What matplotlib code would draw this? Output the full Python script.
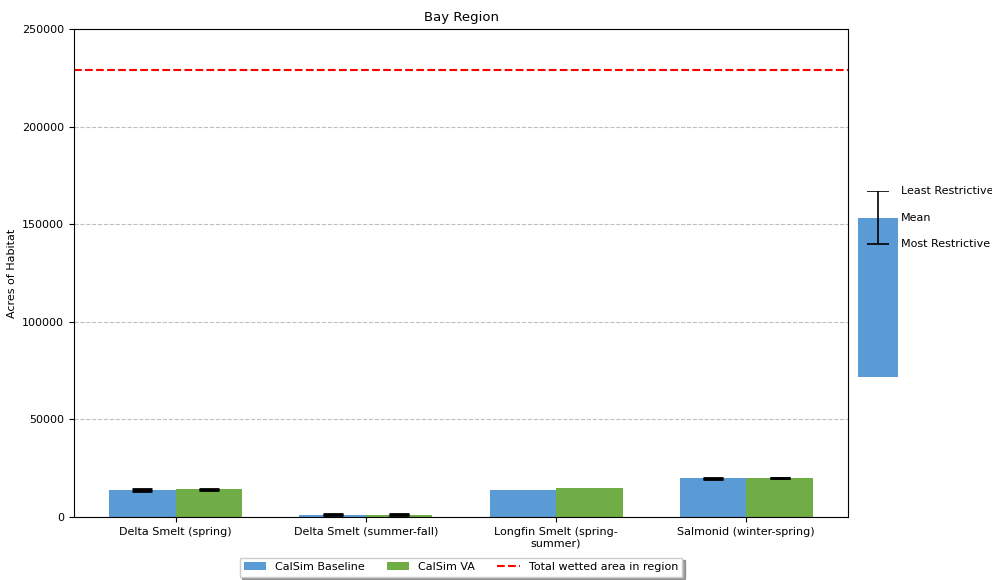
import matplotlib.pyplot as plt
import numpy as np

# habitat acres by species / season
categories = ["Delta Smelt (spring)", "Delta Smelt (summer-fall)",
              "Longfin Smelt (spring-\nsummer)", "Salmonid (winter-spring)"]
baseline = [13800, 1200, 14000, 19800]
baseline_err = [300, 100, 0, 150]
va = [14300, 1200, 14700, 19900]
va_err = [300, 100, 0, 150]
total_wetted = 228800

# key inset values (mean bar with least/most restrictive range)
key_mean = 1.0
key_err = 0.167

x = np.arange(len(categories))
w = 0.35

fig = plt.figure(figsize=(9.92, 5.8), dpi=100)
ax = fig.add_axes([74 / 992, 63 / 580, 774 / 992, 488 / 580])

b1 = ax.bar(x - w / 2, baseline, w, color="#5B9BD5", label="CalSim Baseline")
b2 = ax.bar(x + w / 2, va, w, color="#70AD47", label="CalSim VA")

# error bars only where there is a spread
for xs, ys, es in [(x - w / 2, baseline, baseline_err), (x + w / 2, va, va_err)]:
    es = np.array(es)
    m = es > 0
    ax.errorbar(xs[m], np.array(ys)[m], yerr=es[m], fmt="none", ecolor="black",
                capsize=7.5, elinewidth=1.2, capthick=2)

ln = ax.axhline(total_wetted, color="red", linestyle="--", linewidth=1.5,
                label="Total wetted area in region")

ax.set_ylim(0, 250000)
ax.set_yticks(np.arange(0, 250001, 50000))
ax.set_xticks(x)
ax.set_xticklabels(categories, fontsize=8)
ax.tick_params(axis="y", labelsize=8)
ax.set_ylabel("Acres of Habitat", fontsize=8)
ax.set_title("Bay Region", fontsize=9.5)
ax.yaxis.grid(True, linestyle="--", color="gray", alpha=0.5)
ax.set_axisbelow(True)

ax.legend(handles=[b1, b2, ln], loc="upper center",
          bbox_to_anchor=(0.5, -0.072), ncol=3,
          fontsize=8, shadow=True, fancybox=False)

# key on the right
kax = fig.add_axes([858 / 992, (580 - 377) / 580, 40 / 992, (377 - 191) / 580])
kax.bar([0], [key_mean], 1.0, yerr=[key_err], capsize=8, color="#5B9BD5",
        error_kw=dict(elinewidth=1.2, capthick=1.2))
kax.set_xlim(-0.5, 0.5)
kax.set_ylim(0, key_mean + key_err)
kax.axis("off")
kax.text(0.58, key_mean + key_err, "Least Restrictive", va="center",
         fontsize=8, clip_on=False)
kax.text(0.58, key_mean, "Mean", va="center", fontsize=8, clip_on=False)
kax.text(0.58, key_mean - key_err, "Most Restrictive", va="center",
         fontsize=8, clip_on=False)

fig.savefig("out.png", dpi=100)
